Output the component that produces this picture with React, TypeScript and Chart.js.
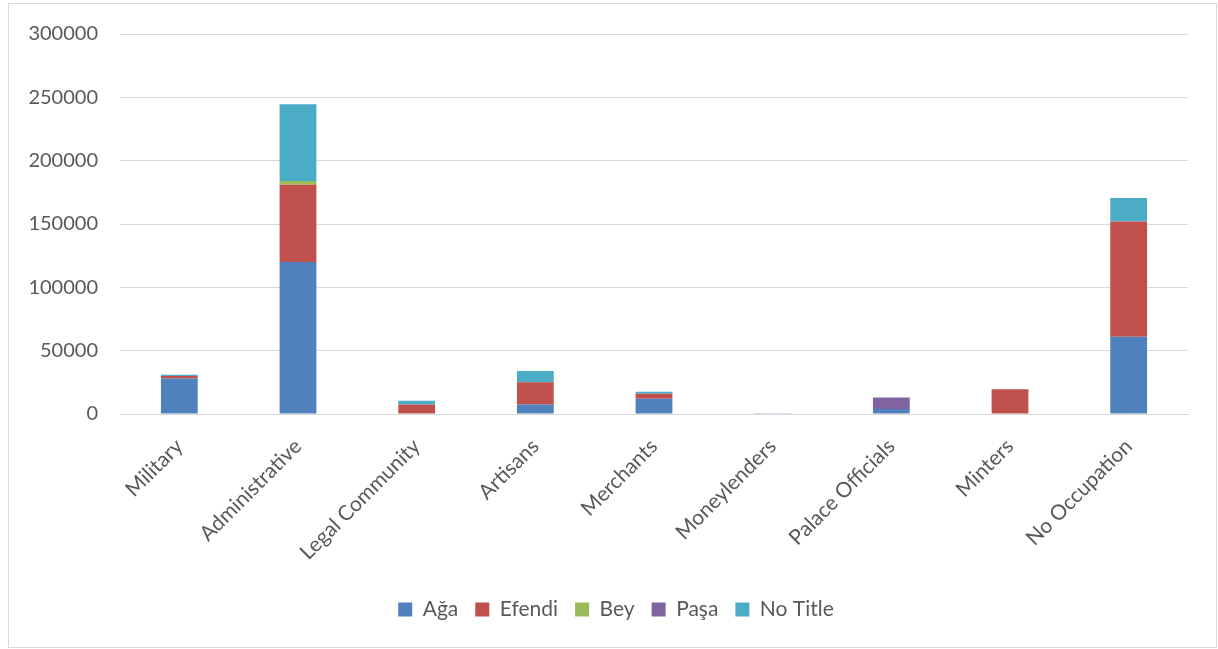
import React, { useEffect, useRef } from "react";
import { Chart, registerables } from "chart.js";

Chart.register(...registerables);

const categories = [
  "Military",
  "Administrative",
  "Legal Community",
  "Artisans",
  "Merchants",
  "Moneylenders",
  "Palace Officials",
  "Minters",
  "No Occupation",
];

const aga = [28000, 120000, 0, 7500, 12000, 500, 4000, 0, 61000];
const efendi = [2000, 61000, 7500, 17500, 4000, 0, 0, 19500, 91000];
const bey = [0, 3000, 0, 0, 0, 0, 0, 0, 0];
const pasa = [0, 0, 0, 0, 0, 0, 9000, 0, 0];
const noTitle = [1000, 60500, 3000, 9000, 1500, 0, 0, 0, 18500];

const yTicks = [0, 50000, 100000, 150000, 200000, 250000, 300000];

const FONT = "Lato, 'Open Sans', sans-serif";
const TEXT = "#595959";
const GRID = "#d9d9d9";

const legendShift = {
  id: "legendShift",
  afterLayout(chart: any) {
    const lg = chart.legend;
    if (lg) {
      lg.left += 22;
      lg.right += 22;
    }
  },
};

export default function App() {
  const ref = useRef<HTMLCanvasElement | null>(null);

  useEffect(() => {
    if (!ref.current) return;
    const chart = new Chart(ref.current, {
      type: "bar",
      data: {
        labels: categories,
        datasets: [
          { label: "Ağa", data: aga, backgroundColor: "#4F81BD" },
          { label: "Efendi", data: efendi, backgroundColor: "#C0504D" },
          { label: "Bey", data: bey, backgroundColor: "#9BBB59" },
          { label: "Paşa", data: pasa, backgroundColor: "#8064A2" },
          { label: "No Title", data: noTitle, backgroundColor: "#4BACC6" },
        ],
      },
      plugins: [legendShift],
      options: {
        animation: false,
        responsive: false,
        maintainAspectRatio: false,
        layout: { padding: { left: 0, right: 30, top: 33, bottom: 19 } },
        datasets: { bar: { categoryPercentage: 1, barPercentage: 0.31 } },
        plugins: {
          legend: {
            position: "bottom",
            labels: {
              font: { family: FONT, size: 21 },
              color: TEXT,
              boxWidth: 14,
              boxHeight: 14,
              padding: 17,
            },
          },
          tooltip: { enabled: false },
        },
        scales: {
          x: {
            stacked: true,
            grid: { display: false, drawTicks: false },
            border: { display: true, color: GRID, width: 1 },
            ticks: {
              font: { family: FONT, size: 21 },
              color: TEXT,
              maxRotation: 45,
              minRotation: 45,
              padding: 20,
              autoSkip: false,
            },
            afterFit: (axis: any) => {
              axis.height = 168;
            },
          },
          y: {
            stacked: true,
            min: 0,
            max: 300000,
            afterBuildTicks: (axis: any) => {
              axis.ticks = yTicks.map((v) => ({ value: v }));
            },
            grid: { color: GRID, lineWidth: 1, drawTicks: false },
            border: { display: false },
            ticks: {
              font: { family: FONT, size: 20 },
              color: TEXT,
              padding: 22,
              callback: (v: any) => String(v),
            },
            afterFit: (axis: any) => {
              axis.width = 120;
            },
          },
        },
      },
    });
    return () => chart.destroy();
  }, []);

  return (
    <div style={{ position: "fixed", left: 0, top: 0, width: 1218, height: 649, background: "#fff" }}>
      <canvas ref={ref} width={1218} height={649} style={{ position: "absolute", left: 0, top: 0 }} />
      <div
        style={{
          position: "absolute",
          left: 8,
          top: 3,
          width: 1207,
          height: 643,
          border: "1px solid #d9d9d9",
          pointerEvents: "none",
        }}
      />
    </div>
  );
}
